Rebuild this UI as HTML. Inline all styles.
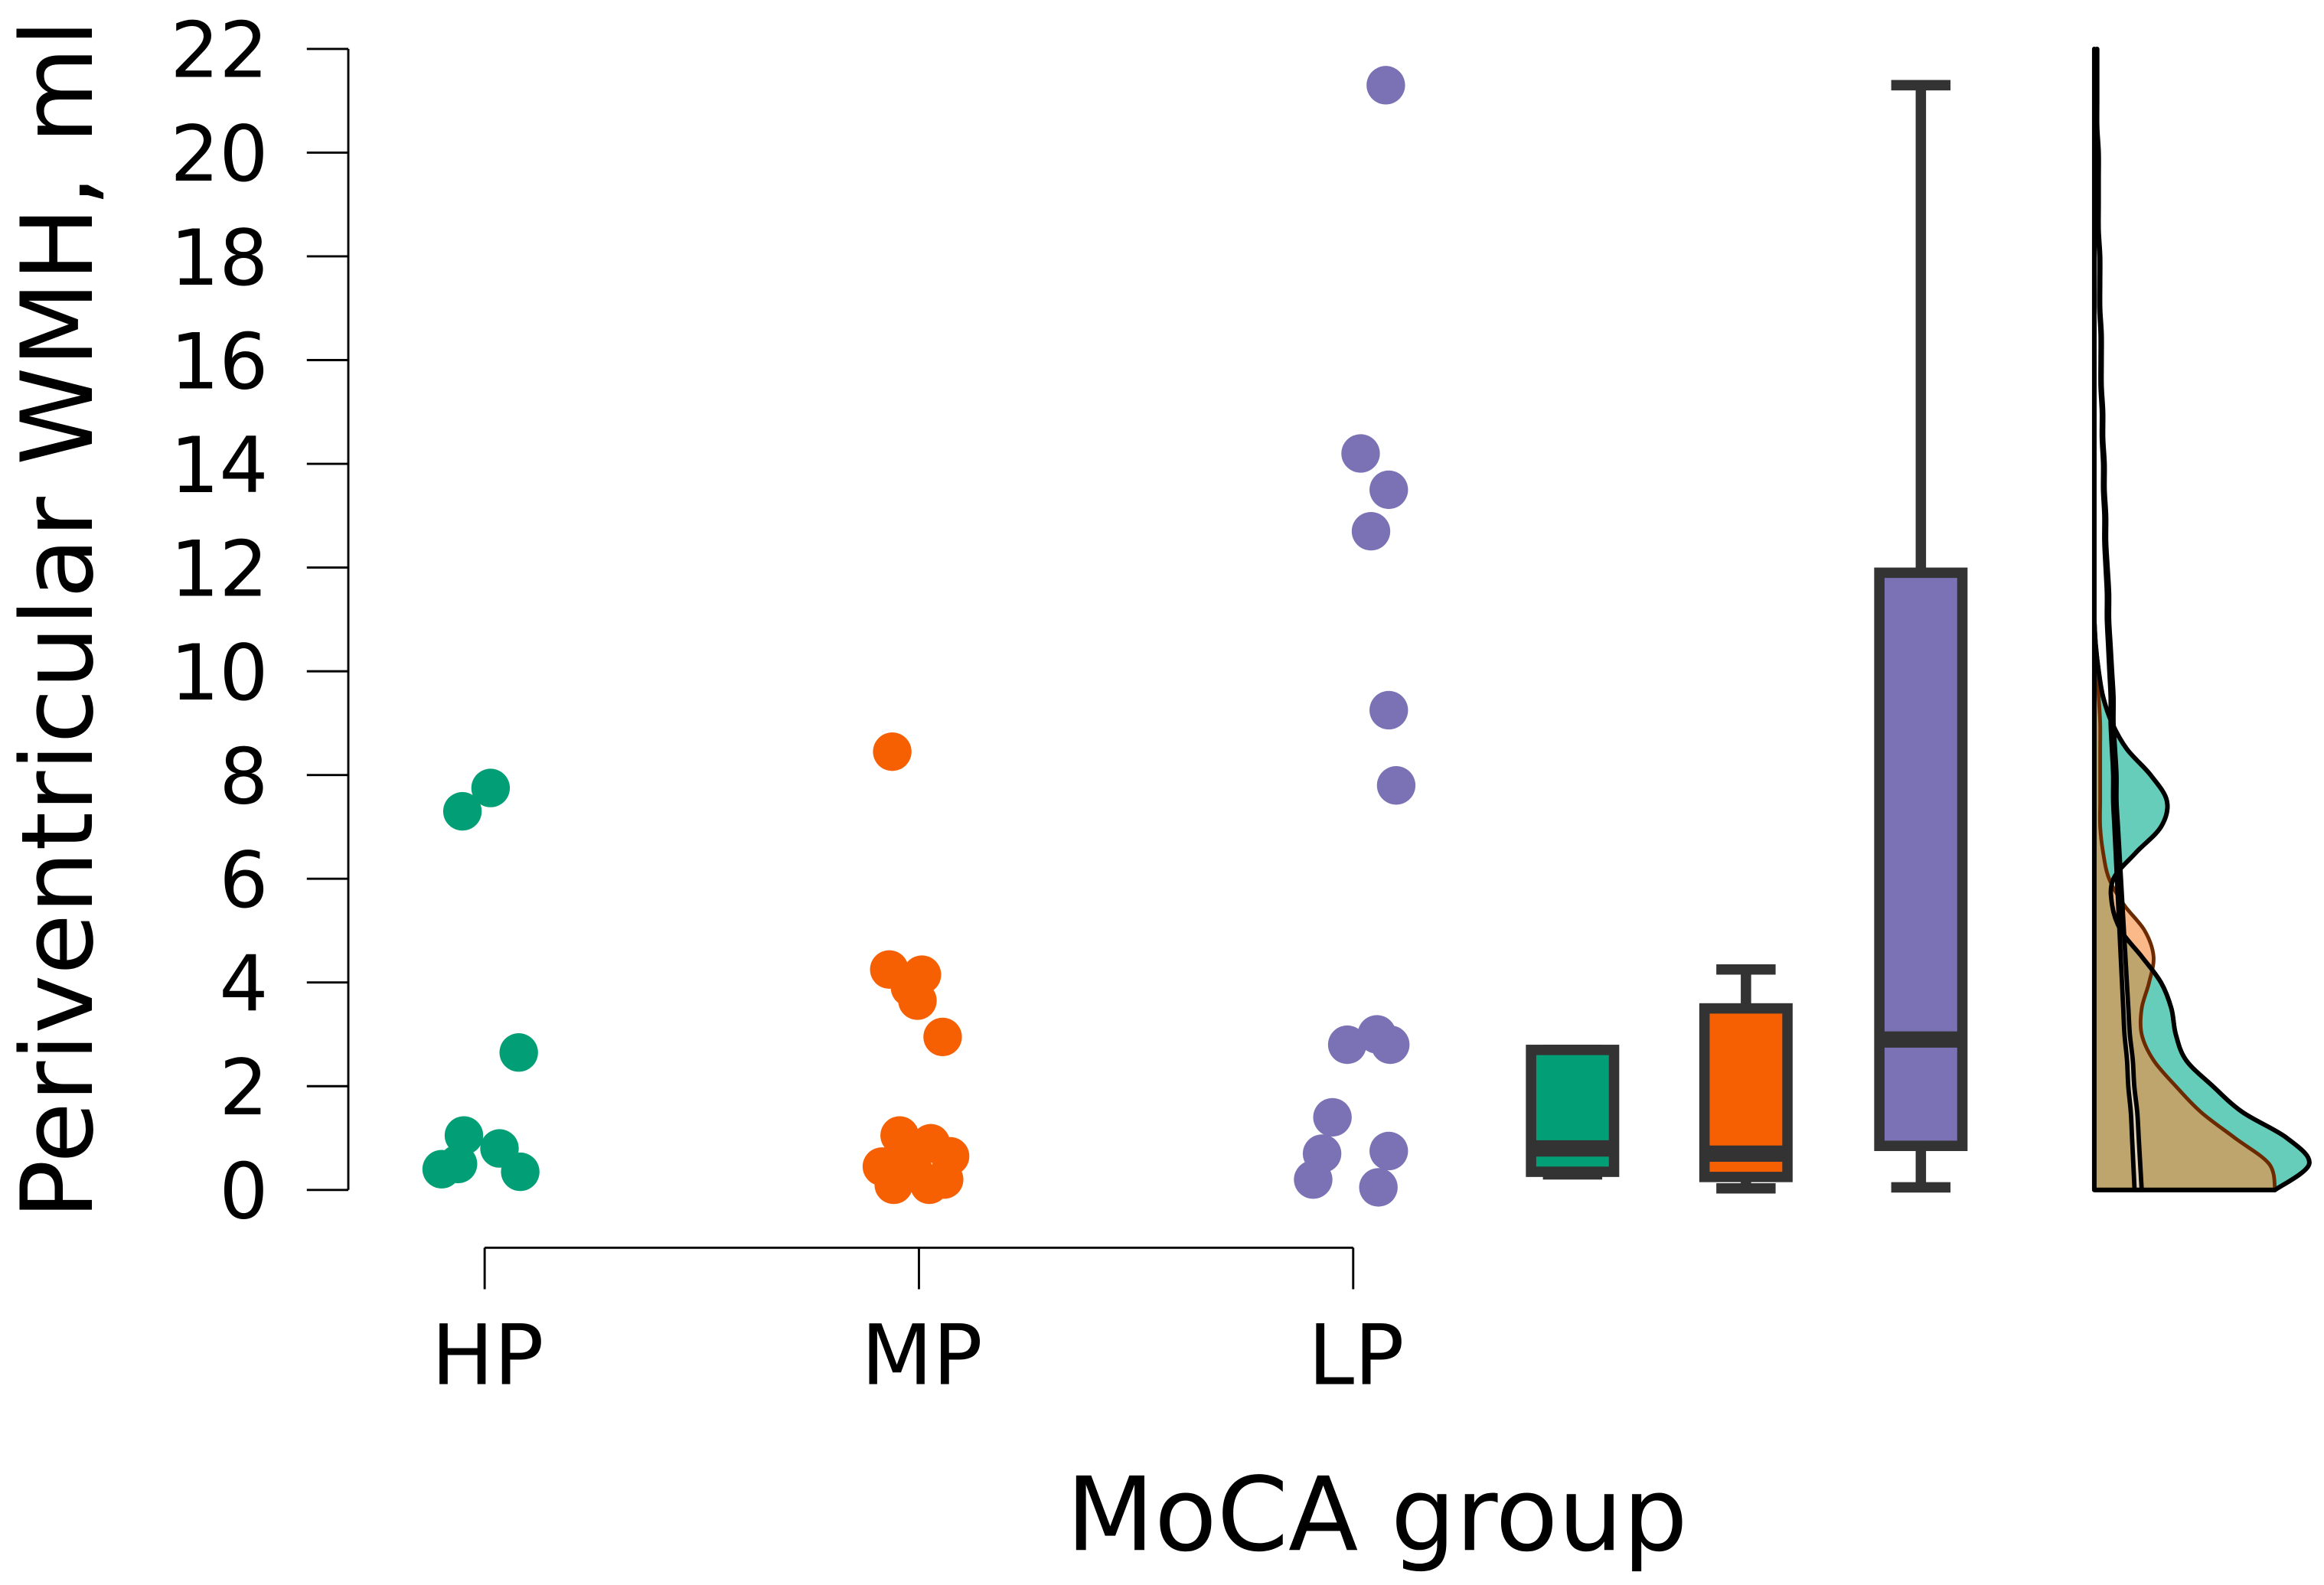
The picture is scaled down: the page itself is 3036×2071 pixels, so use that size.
<!DOCTYPE html>
<html><head><meta charset="utf-8"><style>
html,body{margin:0;padding:0;background:#fff;}
svg{display:block;}
text{font-family:"DejaVu Sans","Liberation Sans",sans-serif;fill:#000;}
</style></head><body>
<svg id="chart" width="3036" height="2071" viewBox="0 0 1568 1069.6" preserveAspectRatio="none" xmlns="http://www.w3.org/2000/svg">
<g id="axes"></g>
<g id="dens"></g>
<g id="boxes"></g>
<g id="pts"></g>
<text x="0" y="0" font-size="67" text-anchor="middle" transform="translate(62,418) rotate(-90)">Periventricular WMH, ml</text>
<text x="929" y="1046" font-size="69" text-anchor="middle">MoCA group</text>
</svg>
<script>
const categories = ["HP","MP","LP"];
const colors = ["#029e76","#f76002","#7a72b5"];
const yTicks = [0,2,4,6,8,10,12,14,16,18,20,22];
const hpValues = [7.3,7.75,2.65,1.05,0.4,0.5,0.8,0.35];
const hpJitter = [-15,4,23,-14,-29,-18,10,24];
const mpValues = [8.45,4.25,4.15,3.9,3.65,2.95,1.05,0.9,0.65,0.45,0.1,0.1,0.2,0.4,0.7];
const mpJitter = [-18,-20,2,-6,-1,16,-13,8,21,-25,-17,7,17,-4,-11];
const lpValues = [21.3,14.2,13.5,12.7,9.25,7.8,2.8,3.0,2.8,1.4,0.7,0.75,0.2,0.05];
const lpJitter = [22,5,24,12,24,29,-4,16,25,-14,-21,24,-27,17];
// box stats: [lowWhisker, q1, median, q3, highWhisker]
const hpBox = [0.3,0.35,0.8,2.7,2.7];
const mpBox = [0.03,0.25,0.7,3.5,4.25];
const lpBox = [0.05,0.85,2.9,11.9,21.3];
// density widths sampled every 0.5 ml from 0
const hpDensity = [122,145,130,100,80,62,55,52,45,32,18,12,13,28,45,49,38,22,12,6,3,1,0];
const mpDensity = [122,118,95,72,55,40,32,32,37,40,34,20,10,6,4,4,4,4,4,3,2,1,0];
const lpDensity = [32,31,30,29,27,26,24,23,22,21,20,19,18,17,16,15,15,14,13,13,12,11,10,10,9,8,8,7,7,6,6,5,5,5,4,4,4,3,3,3,3,2,2,2,2];

const NS="http://www.w3.org/2000/svg";
function yS(v){return 803 - v*35;}
const catX=[327,620,913];
function mk(tag,attrs,parent){const e=document.createElementNS(NS,tag);for(const k in attrs)e.setAttribute(k,attrs[k]);parent.appendChild(e);return e;}

const ax=document.getElementById('axes');
let l=mk('line',{x1:235,y1:yS(22),x2:235,y2:yS(0),stroke:'#000','stroke-width':1.5},ax);


yTicks.forEach(t=>{
  const tk=mk('line',{x1:207,y1:yS(t),x2:235,y2:yS(t),stroke:'#000','stroke-width':1.5},ax);
  
  
  const tx=mk('text',{x:181,y:yS(t)+19,'font-size':52,'text-anchor':'end'},ax);
  tx.textContent=t;
  
  
});
l=mk('line',{x1:catX[0],y1:842,x2:catX[2],y2:842,stroke:'#000','stroke-width':1.5},ax);


categories.forEach((c,i)=>{
  const tk=mk('line',{x1:catX[i],y1:842,x2:catX[i],y2:870,stroke:'#000','stroke-width':1.5},ax);
  
  
  const tx=mk('text',{x:catX[i]+2,y:934,'font-size':56,'text-anchor':'middle'},ax);
  tx.textContent=c;
  
  
});

// points
const pg=document.getElementById('pts');
[[hpValues,hpJitter],[mpValues,mpJitter],[lpValues,lpJitter]].forEach((g,i)=>{
  g[0].forEach((v,j)=>{
    const c=mk('circle',{cx:catX[i]+g[1][j],cy:yS(v),r:13,fill:colors[i]},pg);
    
    
  });
});

// boxes
const bg=document.getElementById('boxes');
const boxX=[1061,1178,1296];
[hpBox,mpBox,lpBox].forEach((b,i)=>{
  const cx=boxX[i], w=56;
  let e=mk('line',{x1:cx,y1:yS(b[0]),x2:cx,y2:yS(b[4]),stroke:'#333','stroke-width':7},bg);
  
  
  [b[0],b[4]].forEach(v=>{
    const c=mk('line',{x1:cx-20,y1:yS(v),x2:cx+20,y2:yS(v),stroke:'#333','stroke-width':7},bg);
    
    
  });
  e=mk('rect',{x:cx-w/2,y:yS(b[3]),width:w,height:yS(b[1])-yS(b[3]),fill:colors[i],stroke:'#333','stroke-width':7},bg);
  
  
  e=mk('line',{x1:cx-w/2,y1:yS(b[2]),x2:cx+w/2,y2:yS(b[2]),stroke:'#333','stroke-width':11},bg);
  
  
});

// densities (smoothed with Catmull-Rom)
const dg=document.getElementById('dens');
const base=1413;
function smooth(pts){
  let d='';
  for(let i=0;i<pts.length-1;i++){
    const p0=pts[Math.max(0,i-1)],p1=pts[i],p2=pts[i+1],p3=pts[Math.min(pts.length-1,i+2)];
    const c1=[p1[0]+(p2[0]-p0[0])/6,p1[1]+(p2[1]-p0[1])/6];
    const c2=[p2[0]-(p3[0]-p1[0])/6,p2[1]-(p3[1]-p1[1])/6];
    d+=' C'+c1[0]+','+c1[1]+' '+c2[0]+','+c2[1]+' '+p2[0]+','+p2[1];
  }
  return d;
}
function densPath(arr){
  const pts=arr.map((w,k)=>[base+w,yS(k*0.5)]);
  let d='M'+base+','+yS(0)+' L'+pts[0][0]+','+pts[0][1];
  d+=smooth(pts);
  d+=' L'+base+','+yS(22)+' Z';
  return d;
}
let p=mk('path',{d:densPath(hpDensity),fill:'#66cdba',stroke:'#000','stroke-width':3,'stroke-linejoin':'round'},dg);


p=mk('path',{d:densPath(mpDensity),fill:'#f98b3c','fill-opacity':0.6,stroke:'#6b2a00','stroke-width':2.5,'stroke-linejoin':'round'},dg);


p=mk('path',{d:densPath(hpDensity),fill:'none',stroke:'#000','stroke-width':3,'stroke-linejoin':'round'},dg);


// LP sliver
const rightPts=lpDensity.map((w,k)=>[base+w,yS(k*0.5)]);
const leftPts=lpDensity.map((w,k)=>[base+w*0.85,yS(k*0.5)]).reverse();
let d='M'+leftPts[leftPts.length-1][0]+','+leftPts[leftPts.length-1][1]+' L'+rightPts[0][0]+','+rightPts[0][1]+smooth(rightPts)+' L'+leftPts[0][0]+','+leftPts[0][1]+smooth(leftPts)+' Z';
p=mk('path',{d:d,fill:'#ffffff','fill-opacity':0.5,stroke:'#000','stroke-width':3,'stroke-linejoin':'round'},dg);


p=mk('line',{x1:base,y1:yS(22),x2:base,y2:yS(0),stroke:'#000','stroke-width':3},dg);


p=mk('line',{x1:base,y1:yS(0),x2:base+122,y2:yS(0),stroke:'#000','stroke-width':3},dg);


</script>
</body></html>
